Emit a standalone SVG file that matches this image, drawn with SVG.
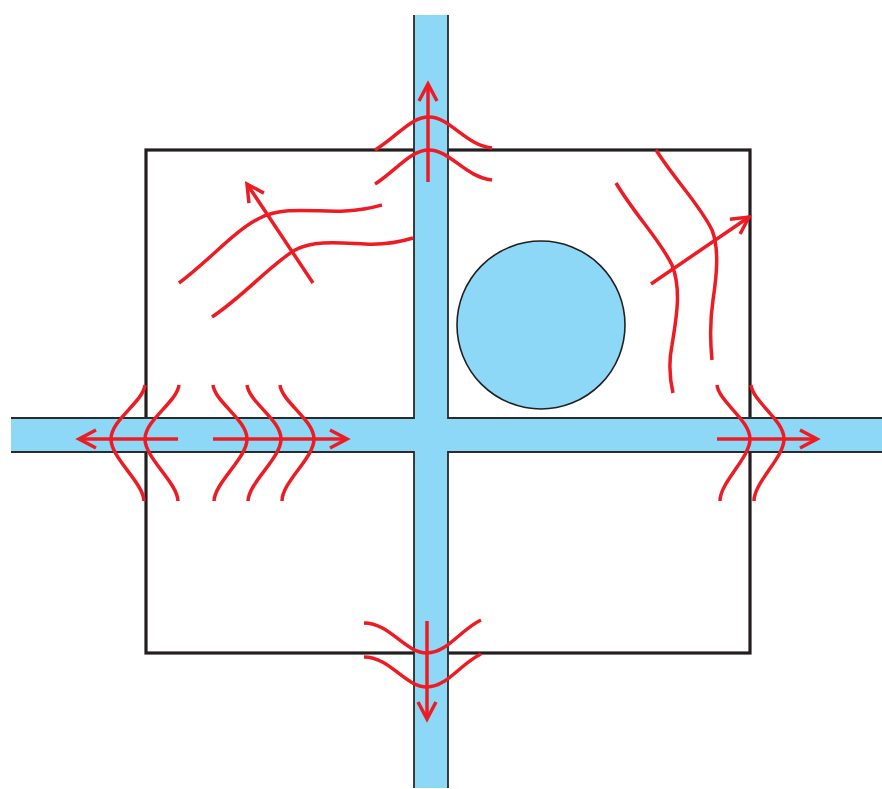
<svg xmlns="http://www.w3.org/2000/svg" width="882" height="789" viewBox="0 0 882 789">
<style>
.ch{fill:#8dd7f7;stroke:none}
.edge{fill:none;stroke:#2b2b2b;stroke-width:1.8}
.box{fill:none;stroke:#231f20;stroke-width:3.2}
.w{fill:none;stroke:#ed1c24;stroke-width:3.5;stroke-linecap:butt}
.a{fill:none;stroke:#ed1c24;stroke-width:3.5;marker-end:url(#ah)}
</style>
<defs>
<marker id="ah" viewBox="-22 -12 26 24" refX="0" refY="0" markerWidth="26" markerHeight="24" markerUnits="userSpaceOnUse" orient="auto">
<path d="M-17,-9 L0,0 L-17,9" fill="none" stroke="#ed1c24" stroke-width="3.5"/>
</marker>
</defs>
<rect width="882" height="789" fill="#fff"/>
<g id="cell">
<rect class="box" x="146" y="150" width="604" height="503"/>
</g>
<g id="channels">
<rect class="ch" x="414" y="15" width="34" height="773"/>
<rect class="ch" x="11" y="418" width="871" height="34"/>
<path class="edge" d="M414,15 V418 H11 M448,15 V418 H882 M11,452 H414 V788 M882,452 H448 V788"/>
</g>
<g id="nucleus">
<circle cx="541" cy="325" r="84" fill="#8dd7f7" stroke="#231f20" stroke-width="1.6"/>
</g>
<g id="connectors">
<path class="w" d="M375,150 C397,137 410,117 429,117 C450,117 465,145 492,148"/>
<path class="w" d="M375,184 C397,170 410,150 429,150 C450,150 465,177 492,180"/>
<path class="a" d="M428,182 V84"/>
<path class="w" d="M179,283 C210,260 235,230 260,218 C285,205 320,213 345,211 C365,210 375,207 382,205"/>
<path class="w" d="M212,317 C245,295 270,265 295,250 C315,240 340,243 365,244 C385,245 400,242 413,238"/>
<path class="a" d="M313,283 L247,184"/>
<path class="w" d="M616,183 C635,215 660,240 672,265 C682,290 676,320 672,345 C668,365 670,380 673,393"/>
<path class="w" d="M656,150 C675,180 700,205 712,230 C720,250 716,280 713,300 C710,320 710,340 712,360"/>
<path class="a" d="M651,284 L749,217"/>
<path class="w" d="M145,385 C143,402 111,420 111,439 C111,458 143,482 144,501"/>
<path class="w" d="M179,385 C177,402 145,420 145,439 C145,458 177,482 178,501"/>
<path class="a" d="M178,439 H79"/>
<path class="w" d="M213,385 C215,402 247,420 247,439 C247,458 215,482 214,501"/>
<path class="w" d="M247,385 C249,402 281,420 281,439 C281,458 249,482 248,501"/>
<path class="w" d="M280,385 C282,402 314,420 314,439 C314,458 282,482 282,501"/>
<path class="a" d="M213,439 H347"/>
<path class="w" d="M717,385 C719,402 750,420 750,439 C750,458 720,482 720,501"/>
<path class="w" d="M751,385 C753,402 784,420 784,439 C784,458 754,482 754,501"/>
<path class="a" d="M717,439 H817"/>
<path class="w" d="M364,623 C390,623 405,653 427,653 C447,653 460,630 481,620"/>
<path class="w" d="M364,657 C390,657 405,687 427,687 C447,687 460,664 481,654"/>
<path class="a" d="M427,621 V719"/>
</g>
</svg>
